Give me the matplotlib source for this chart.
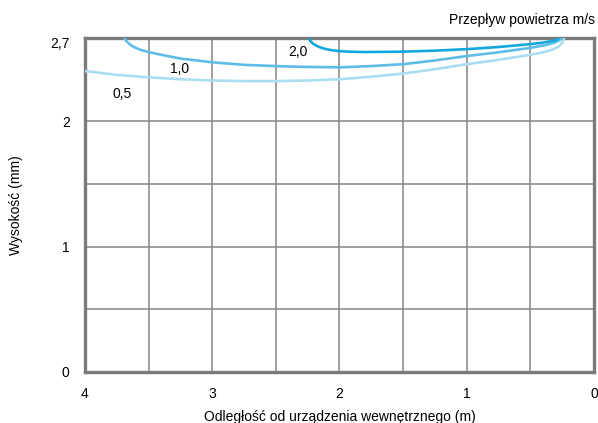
import matplotlib.pyplot as plt

plt.rcParams['font.family'] = ['Liberation Sans', 'DejaVu Sans']

# distance from indoor unit (m) / height (mm)
x_05 = [4.05, 4.0, 3.75, 3.5, 3.25, 3.0, 2.75, 2.5, 2.25, 2.0, 1.75, 1.5, 1.25, 1.0, 0.75, 0.5,
        0.4, 0.33, 0.28, 0.255, 0.242, 0.236]
y_05 = [2.405, 2.40, 2.37, 2.35, 2.335, 2.325, 2.32, 2.32, 2.325, 2.335, 2.355, 2.38, 2.415, 2.455,
        2.49, 2.53, 2.55, 2.57, 2.595, 2.62, 2.64, 2.66]

x_10 = [3.69, 3.675, 3.655, 3.63, 3.6, 3.56, 3.5, 3.4, 3.25, 3.0, 2.75, 2.5, 2.25, 2.0, 1.75, 1.5,
        1.25, 1.0, 0.75, 0.5, 0.38, 0.31, 0.275, 0.255]
y_10 = [2.66, 2.64, 2.62, 2.60, 2.585, 2.568, 2.552, 2.53, 2.50, 2.47, 2.45, 2.44, 2.433, 2.43,
        2.44, 2.455, 2.485, 2.52, 2.55, 2.585, 2.607, 2.627, 2.645, 2.66]

x_20 = [2.24, 2.23, 2.215, 2.19, 2.16, 2.12, 2.07, 2.01, 1.93, 1.8, 1.5, 1.25, 1.0, 0.75, 0.5,
        0.4, 0.33, 0.295, 0.28]
y_20 = [2.66, 2.643, 2.625, 2.607, 2.592, 2.579, 2.568, 2.56, 2.555, 2.552, 2.555, 2.563, 2.575,
        2.592, 2.615, 2.627, 2.64, 2.65, 2.66]

series = [
    (x_05, y_05, '#abdcf2', '0,5', (3.71, 2.22)),
    (x_10, y_10, '#5ebde8', '1,0', (3.26, 2.42)),
    (x_20, y_20, '#12a7de', '2,0', (2.33, 2.55)),
]

y_ticks = [0, 1, 2, 2.63]
y_tick_labels = ['0', '1', '2', '2,7']
x_ticks = [4, 3, 2, 1, 0]

fig = plt.figure(figsize=(5.98, 4.23), dpi=100)
ax = fig.add_axes([0.1421, 0.1206, 0.8512, 0.7884])

for xs, ys, col, lab, pos in series:
    ax.plot(xs, ys, color=col, lw=1.9, solid_capstyle='round', solid_joinstyle='round', zorder=3)
    ax.text(pos[0], pos[1], lab, fontsize=10, ha='center', va='center', zorder=4)

ax.set_xlim(4, 0)
ax.set_ylim(0, 2.66)

# grid every 0.5
for gx in [3.5, 3.0, 2.5, 2.0, 1.5, 1.0, 0.5]:
    ax.axvline(gx, color='#858585', lw=1.1, zorder=1)
for gy in [0.5, 1.0, 1.5, 2.0]:
    ax.axhline(gy, color='#858585', lw=1.1, zorder=1)

for s in ax.spines.values():
    s.set_color('#7a7a7a')
    s.set_linewidth(2.4)

ax.set_xticks(x_ticks)
ax.set_xticklabels([str(v) for v in x_ticks])
ax.set_yticks(y_ticks)
ax.set_yticklabels(y_tick_labels)
ax.tick_params(length=0, labelsize=10, pad=11)

ax.set_xlabel('Odległość od urządzenia wewnętrznego (m)', fontsize=10, labelpad=6)
ax.set_ylabel('Wysokość (mm)', fontsize=10, labelpad=20)

fig.text(0.995, 0.952, 'Przepływ powietrza m/s', fontsize=10, ha='right', va='center')

fig.savefig('out.png', dpi=100)
